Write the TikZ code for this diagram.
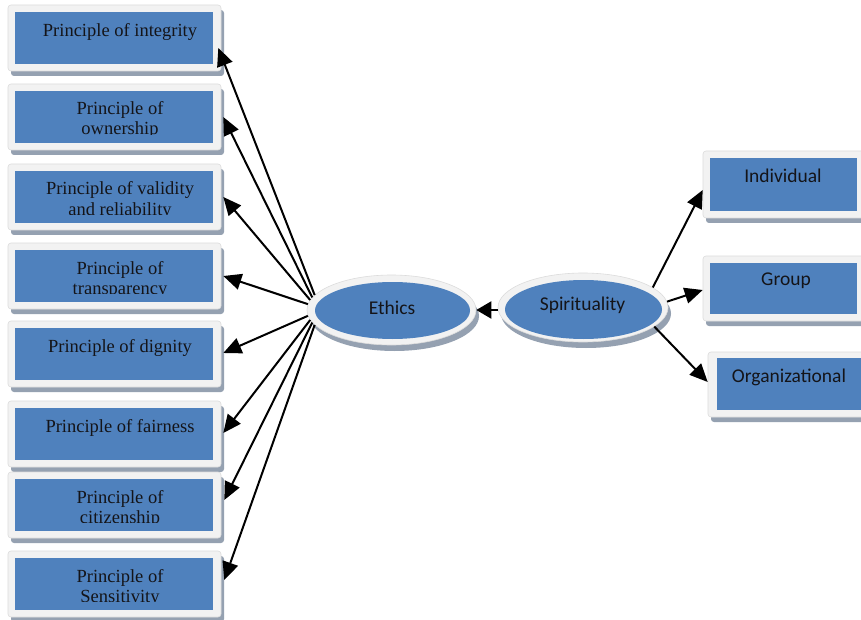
\documentclass[tikz,border=0pt]{standalone}
\usepackage{fontspec}
\setmainfont{Liberation Serif}
\newfontfamily\carl{Carlito}
\usetikzlibrary{shapes.geometric,shadows,arrows.meta}
\definecolor{boxblue}{HTML}{4F81BD}
\definecolor{ring}{HTML}{F2F2F2}
\definecolor{ringedge}{HTML}{DCDCDC}
\definecolor{shd}{HTML}{95A1B1}
\definecolor{txt}{HTML}{141418}
\tikzset{
  frame/.style={rectangle, fill=ring, draw=ringedge, line width=0.6pt, rounded corners=3pt, inner sep=0pt,
    drop shadow={shadow xshift=3pt, shadow yshift=-5pt, fill=shd, opacity=1}},
  bluebox/.style={rectangle, fill=boxblue, inner sep=0pt},
  ringell/.style={ellipse, fill=ring, draw=ringedge, line width=0.6pt, inner sep=0pt,
    drop shadow={shadow xshift=3pt, shadow yshift=-6pt, fill=shd, opacity=1}},
  blueell/.style={ellipse, fill=boxblue, inner sep=0pt},
  sertext/.style={inner sep=0pt, text=txt, font=\fontsize{18.5}{20}\selectfont},
  santext/.style={inner sep=0pt, text=txt, font=\carl\fontsize{19.5}{22}\selectfont},
  arr/.style={draw=black, line width=2pt, -{Triangle[length=18pt,width=16pt]}}
}
\newcommand\lboxone[3]{%
  \node[frame, minimum width=213pt, minimum height=66pt] (o#1) at (114.5,#2+33) {};
  \node[bluebox, minimum width=198pt, minimum height=52pt] (b#1) at (114,#2+33) {};
  \node[sertext, anchor=base] (t#1) at (120,#2+31.5) {#3};
}
\newcommand\lboxtwo[4]{%
  \node[frame, minimum width=213pt, minimum height=66pt] (o#1) at (114.5,#2+33) {};
  \node[bluebox, minimum width=198pt, minimum height=52pt] (b#1) at (114,#2+33) {};
  \begin{scope}
    \clip (10,#2) rectangle (220,#2+50.5);
    \node[sertext, anchor=base] (t#1) at (120,#2+31) {#3};
    \node[sertext, anchor=base] (u#1) at (120,#2+51) {#4};
  \end{scope}
}
\begin{document}
\begin{tikzpicture}[x=1pt,y=-1pt]
\useasboundingbox[fill=white] (0,0) rectangle (861,620);

% left boxes
\lboxone{1}{5}{Principle of integrity}
\lboxtwo{2}{84}{Principle of}{ownership}
\lboxtwo{3}{164}{Principle of validity}{and reliability}
\lboxtwo{4}{243}{Principle of}{transparency}
\lboxone{5}{321}{Principle of dignity}
\lboxone{6}{401}{Principle of fairness}
\lboxtwo{7}{472}{Principle of}{citizenship}
\lboxtwo{8}{551}{Principle of}{Sensitivity}

% right boxes
\node[frame, minimum width=161pt, minimum height=67pt] (oi) at (783.5,184.5) {};
\node[bluebox, minimum width=147pt, minimum height=53pt] (bi) at (783.5,184.5) {};
\node[santext] (ti) at (783,175.5) {Individual};

\node[frame, minimum width=161pt, minimum height=65pt] (og) at (783.5,288.5) {};
\node[bluebox, minimum width=147pt, minimum height=51pt] (bg) at (783.5,288.5) {};
\node[santext] (tg) at (786,280.5) {Group};

\node[frame, minimum width=161pt, minimum height=65pt] (oo) at (788.5,384.5) {};
\node[bluebox, minimum width=149pt, minimum height=52pt] (bo) at (791.5,384) {};
\node[santext] (to) at (789,377.5) {Organizational};

% ellipses
\node[ringell, minimum width=169pt, minimum height=70pt] (eth) at (391.5,310) {};
\node[blueell, minimum width=155pt, minimum height=57pt] (ethin) at (392.5,310.5) {};
\node[santext] (etht) at (392,307.5) {Ethics};

\node[ringell, minimum width=170pt, minimum height=69pt] (spi) at (583,307.5) {};
\node[blueell, minimum width=157pt, minimum height=59pt] (spiin) at (583.5,309.5) {};
\node[santext] (spit) at (582.5,305) {Spirituality};

% arrows from Ethics to principles
\draw[arr] (eth.169) -- ([xshift=-3pt,yshift=-10pt]o1.east);
\draw[arr] (eth.171) -- ([xshift=2pt]o2.east);
\draw[arr] (eth.173) -- ([xshift=2pt]o3.east);
\draw[arr] (eth.176) -- ([xshift=2pt]o4.east);
\draw[arr] (eth.184) -- ([xshift=2pt,yshift=1pt]o5.east);
\draw[arr] (eth.187) -- ([xshift=2pt,yshift=1pt]o6.east);
\draw[arr] (eth.189) -- ([xshift=3pt,yshift=5pt]o7.east);
\draw[arr] (eth.191) -- ([xshift=3pt,yshift=4pt]o8.east);

% spirituality arrows
\draw[arr, -{Triangle[length=15pt,width=17pt]}] (spi.west |- eth.east) -- (eth.east);
\draw[arr] (spi.16) -- ([yshift=-5.5pt]oi.west);
\draw[arr] (spi.4) -- ([yshift=-1.5pt]og.west);
\draw[arr] (spi.345) -- ([yshift=2.5pt]oo.west);
\end{tikzpicture}
\end{document}
